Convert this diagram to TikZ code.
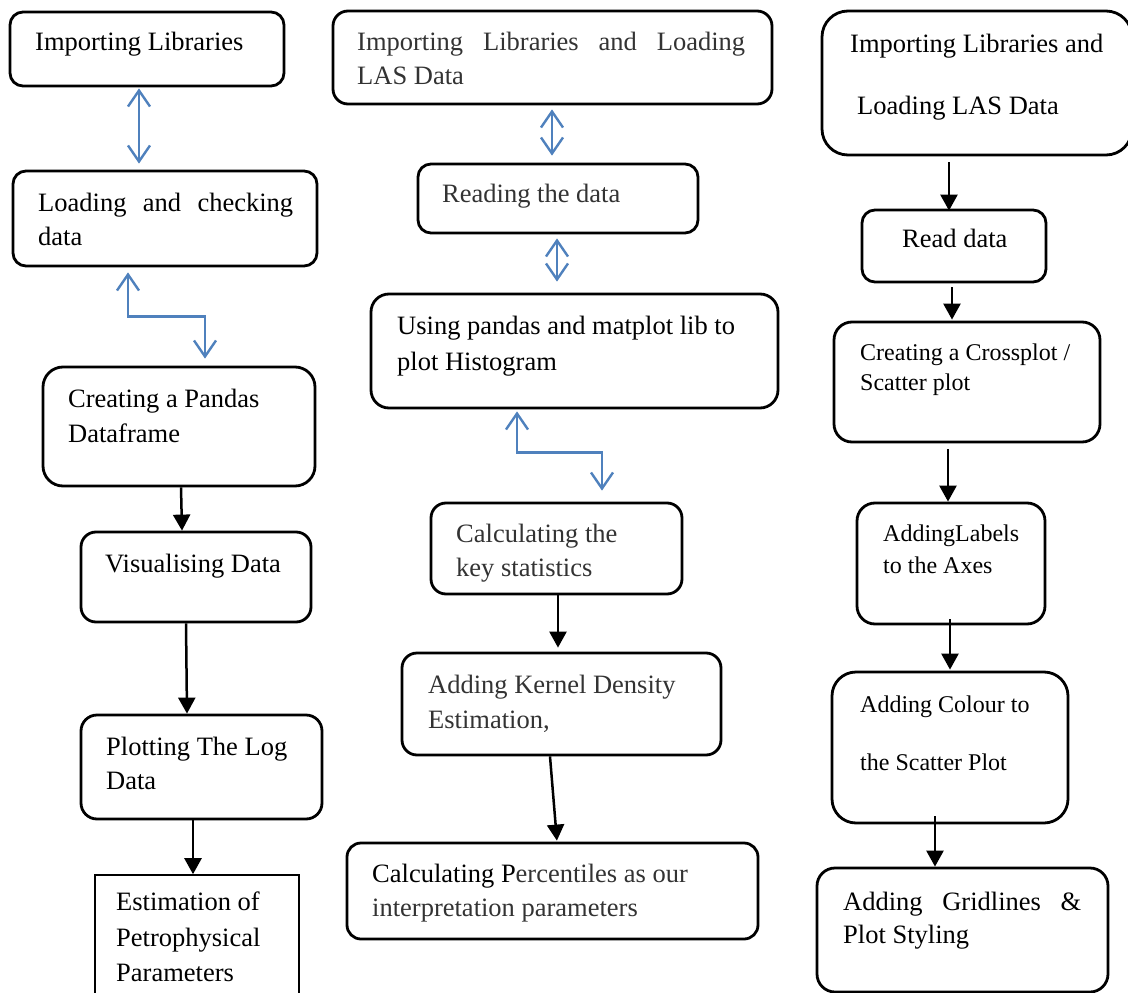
\documentclass[tikz,border=0pt]{standalone}
\usepackage{fontspec}
\setmainfont{Liberation Serif}
\usetikzlibrary{fit,arrows.meta}
\definecolor{lnblue}{HTML}{4F81BD}
\definecolor{txgray}{HTML}{333333}
\begin{document}
\begin{tikzpicture}[x=1pt,y=-1pt,
  box/.style={draw=black, line width=2.8pt, inner sep=0pt, rounded corners=#1},
  box/.default=14pt,
  sqbox/.style={draw=black, line width=1.6pt, inner sep=0pt},
  txt/.style={inner sep=0pt, anchor=base west, font=\fontsize{26.5}{32}\selectfont},
  stxt/.style={inner sep=0pt, anchor=base west, font=\fontsize{24}{29}\selectfont},
  gtxt/.style={txt, text=txgray},
  blk/.style={draw=black, line width=2.5pt, -{Triangle[length=16pt,width=17pt]}},
  blu/.style={draw=lnblue, line width=2.4pt, {Straight Barb[length=16pt,width=22pt]}-{Straight Barb[length=16pt,width=22pt]}},
]
\clip (0,0) rectangle (1128,993);
\fill[white] (0,0) rectangle (1128,993);

% ---------- left column ----------
\node[box=13pt, fit={(10,12) (284,86)}] (b1) {};
\node[box=13pt, fit={(13,171) (317,266)}] (b2) {};
\node[box=20pt, fit={(43,367) (315,486)}] (b3) {};
\node[box=15pt, fit={(81,532) (311,622)}] (b4) {};
\node[box=16pt, fit={(81,715) (322,819)}] (b5) {};
\node[sqbox, fit={(95,875) (299,1010)}] (b6) {};

\node[txt] (b1a) at (35,50) {Importing Libraries};
\node[txt] (b2a) at (38,211) {\makebox[255pt][s]{Loading and checking}};
\node[txt] (b2b) at (38,245) {data};
\node[txt] (b3a) at (68,407) {Creating a Pandas};
\node[txt] (b3b) at (68,442) {Dataframe};
\node[txt] (b4a) at (105,572) {Visualising Data};
\node[txt] (b5a) at (106,755) {Plotting The Log};
\node[txt] (b5b) at (106,789) {Data};
\node[txt] (b6a) at (116,910) {Estimation of};
\node[txt] (b6b) at (116,946) {Petrophysical};
\node[txt] (b6c) at (116,981) {Parameters};

\draw[blu, shorten <=1pt, shorten >=6pt] ([xshift=-8pt]b1.south) -- ([xshift=-26pt]b2.north);
\draw[blu, shorten <=5pt, shorten >=7pt] ([xshift=-37pt]b2.south) -- ++(0,49) -| ([xshift=26pt]b3.north);
\draw[blk] ([xshift=2pt]b3.south) -- ([xshift=-14pt]b4.north);
\draw[blk] ([xshift=-10pt]b4.south) -- ([xshift=-14.5pt]b5.north);
\draw[blk] ([xshift=-8.5pt]b5.south) -- ([xshift=-4pt]b6.north);

% ---------- middle column ----------
\node[box=15pt, fit={(333,11) (772,104)}] (m1) {};
\node[box=13pt, fit={(418,164) (698,233)}] (m2) {};
\node[box=18pt, fit={(371,294) (778,408)}] (m3) {};
\node[box=15pt, fit={(431,503) (682,594)}] (m4) {};
\node[box=15pt, fit={(402,653) (721,755)}] (m5) {};
\node[box=14pt, fit={(347,843) (758,939)}] (m6) {};

\node[gtxt] (m1a) at (357,50) {\makebox[388pt][s]{Importing Libraries and Loading}};
\node[gtxt] (m1b) at (357,84) {LAS Data};
\node[gtxt] (m2a) at (442,202) {Reading the data};
\node[txt] (m3a) at (397,334) {Using pandas and matplot lib to};
\node[txt] (m3b) at (397,370) {plot Histogram};
\node[gtxt] (m4a) at (456,542) {Calculating the};
\node[gtxt] (m4b) at (456,576) {key statistics};
\node[gtxt] (m5a) at (428,693) {Adding Kernel Density};
\node[gtxt] (m5b) at (428,728) {Estimation,};
\node[gtxt] (m6a) at (372,882) {{\color{black}Calculating P}ercentiles as our};
\node[gtxt] (m6b) at (372,916) {interpretation parameters};

\draw[blu, shorten <=4pt, shorten >=7pt] ([xshift=-0.5pt]m1.south) -- ([xshift=-6pt]m2.north);
\draw[blu, shorten <=4pt, shorten >=11pt] ([xshift=-1pt]m2.south) -- ([xshift=-17.5pt]m3.north);
\draw[blu, shorten <=2pt, shorten >=11pt] ([xshift=-57.5pt]m3.south) -- ++(0,43) -| ([xshift=45.5pt]m4.north);
\draw[blk, shorten >=4pt] ([xshift=1.5pt]m4.south) -- ([xshift=-3.5pt]m5.north);
\draw[blk, shorten >=1pt] ([xshift=-11.5pt]m5.south) -- ([xshift=4.5pt]m6.north);

% ---------- right column ----------
\node[box=26pt, fit={(822,11) (1132,155)}] (r1) {};
\node[box=13pt, fit={(862,210) (1046,282)}] (r2) {};
\node[box=18pt, fit={(834,322) (1100,442)}] (r3) {};
\node[box=18pt, fit={(857,503) (1045,624)}] (r4) {};
\node[box=24pt, fit={(832,672) (1068,823)}] (r5) {};
\node[box=18pt, fit={(817,868) (1108,992)}] (r6) {};

\node[txt] (r1a) at (850,52) {Importing Libraries and};
\node[txt] (r1b) at (857,114) {Loading LAS Data};
\node[txt] (r2a) at (902,247) {Read data};
\node[stxt] (r3a) at (860,360) {Creating a Crossplot /};
\node[stxt] (r3b) at (860,390) {Scatter plot};
\node[stxt] (r4a) at (883,541) {AddingLabels};
\node[stxt] (r4b) at (883,573) {to the Axes};
\node[stxt] (r5a) at (860,712) {Adding Colour to};
\node[stxt] (r5b) at (860,770) {the Scatter Plot};
\node[txt] (r6a) at (843,910) {\makebox[238pt][s]{Adding Gridlines \&}};
\node[txt] (r6b) at (843,943) {Plot Styling};

\draw[blk, shorten <=6pt, shorten >=-2pt] ([xshift=-28pt]r1.south) -- ([xshift=-5pt]r2.north);
\draw[blk, shorten <=4pt, shorten >=1pt] ([xshift=-2pt]r2.south) -- ([xshift=-15pt]r3.north);
\draw[blk, shorten <=6pt] ([xshift=-19pt]r3.south) -- ([xshift=-3pt]r4.north);
\draw[blk, shorten <=-6pt, shorten >=1pt] ([xshift=-1pt]r4.south) -- ([xshift=0pt]r5.north);
\draw[blk, shorten <=-8pt] ([xshift=-15pt]r5.south) -- ([xshift=-27.5pt]r6.north);
\end{tikzpicture}
\end{document}
